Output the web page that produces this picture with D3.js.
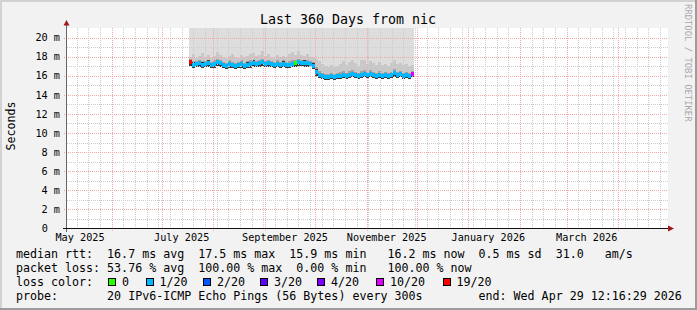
<!DOCTYPE html>
<html>
<head>
<meta charset="utf-8">
<script src="https://cdn.jsdelivr.net/npm/d3@7"></script>
<style>
  body { margin: 0; background: #f2f2f2; }
  svg { display: block; font-family: "DejaVu Sans Mono", monospace; }
</style>
</head>
<body>
<script>
// Smokeping style graph: last 360 days of pings to nic
const width = 697;
const height = 310;
const plot = { left: 67, right: 667, top: 28, bottom: 228.5 };

const rangeStart = new Date(Date.UTC(2025, 4, 5, 4, 20));
const rangeEnd = new Date(Date.UTC(2026, 3, 30, 4, 20));

// one sample every 1.8 days, starting mid July 2025
const firstSample = Date.UTC(2025, 6, 17, 9, 0);
const stepMs = 1.8 * 86400000;

// median rtt (ms)
const median = [
  17.4, 17.1, 17.2, 17.3, 17.1, 17.2, 17.3, 17.1, 17.2, 17.4,
  17.3, 17.1, 17.0, 17.2, 17.1, 17.0, 17.1, 17.2, 17.0, 17.1,
  17.2, 17.3, 17.2, 17.3, 17.4, 17.2, 17.3, 17.2, 17.1, 17.2,
  17.1, 17.2, 17.1, 17.1, 17.2, 17.3, 17.4, 17.3, 17.3, 17.3,
  17.2, 17.0, 16.4, 16.1, 15.95, 15.9, 15.9, 15.95, 15.9, 15.95,
  16.0, 16.1, 16.0, 16.1, 16.2, 16.1, 16.0, 16.1, 16.2, 16.1,
  16.2, 16.1, 16.0, 16.1, 16.0, 16.1, 16.0, 16.1, 16.3, 16.1,
  16.2, 16.0, 16.1, 16.0, 16.2
];

// upper edges of the smoke shades (ms), outer to inner
const smokeOuter = [
  18.0, 18.3, 17.9, 18.1, 18.4, 18.0, 18.2, 17.9, 18.1, 18.5,
  18.2, 18.0, 17.9, 18.1, 18.3, 18.0, 17.9, 18.2, 18.0, 18.1,
  18.3, 18.4, 18.1, 18.2, 18.6, 18.1, 18.3, 18.0, 17.9, 18.2,
  18.0, 18.1, 18.0, 18.3, 18.5, 18.2, 18.6, 18.2, 18.1, 18.3,
  18.0, 18.0, 17.8, 17.5, 17.2, 17.0, 16.9, 17.1, 16.9, 17.0,
  17.2, 17.5, 17.1, 17.4, 17.7, 17.3, 17.0, 17.6, 17.7, 17.2,
  17.5, 17.3, 17.1, 17.4, 17.1, 17.2, 17.0, 17.3, 17.6, 17.2,
  17.3, 17.1, 17.2, 17.0, 17.1
];
const smokeMid = [
  17.8, 17.5, 17.5, 17.7, 17.5, 17.5, 17.7, 17.4, 17.6, 17.8,
  17.6, 17.4, 17.3, 17.6, 17.4, 17.3, 17.4, 17.6, 17.3, 17.5,
  17.6, 17.7, 17.5, 17.7, 17.8, 17.5, 17.7, 17.5, 17.4, 17.6,
  17.4, 17.6, 17.4, 17.5, 17.6, 17.7, 17.8, 17.6, 17.7, 17.6,
  17.5, 17.4, 16.9, 16.5, 16.3, 16.2, 16.2, 16.3, 16.2, 16.3,
  16.4, 16.5, 16.3, 16.5, 16.6, 16.4, 16.3, 16.5, 16.6, 16.4,
  16.6, 16.4, 16.3, 16.5, 16.3, 16.4, 16.3, 16.4, 16.7, 16.4,
  16.5, 16.3, 16.4, 16.3, 16.5
];
const smokeCore = [
  17.6, 17.4, 17.4, 17.5, 17.4, 17.3, 17.6, 17.3, 17.4, 17.6,
  17.5, 17.3, 17.2, 17.4, 17.3, 17.2, 17.3, 17.4, 17.2, 17.4,
  17.4, 17.6, 17.4, 17.5, 17.6, 17.4, 17.5, 17.4, 17.3, 17.4,
  17.3, 17.5, 17.3, 17.3, 17.4, 17.5, 17.6, 17.5, 17.6, 17.5,
  17.4, 17.3, 16.7, 16.3, 16.1, 16.1, 16.1, 16.1, 16.1, 16.2,
  16.2, 16.3, 16.2, 16.3, 16.4, 16.3, 16.2, 16.3, 16.4, 16.3,
  16.4, 16.3, 16.2, 16.3, 16.2, 16.3, 16.2, 16.3, 16.5, 16.3,
  16.4, 16.2, 16.3, 16.2, 16.4
];
// lower edge of the smoke (ms)
const smokeLow = [
  17.0, 16.8, 16.9, 16.9, 16.8, 16.9, 16.9, 16.8, 16.8, 17.0,
  16.9, 16.8, 16.7, 16.8, 16.8, 16.7, 16.8, 16.8, 16.7, 16.8,
  16.8, 16.9, 16.9, 16.9, 17.0, 16.9, 16.9, 16.9, 16.8, 16.9,
  16.8, 16.9, 16.8, 16.8, 16.9, 16.9, 17.0, 17.0, 16.9, 16.9,
  16.9, 16.7, 16.0, 15.8, 15.7, 15.6, 15.6, 15.7, 15.6, 15.7,
  15.7, 15.8, 15.7, 15.8, 15.9, 15.8, 15.7, 15.8, 15.9, 15.8,
  15.9, 15.8, 15.7, 15.8, 15.7, 15.8, 15.7, 15.8, 15.9, 15.8,
  15.9, 15.7, 15.8, 15.7, 15.9
];
// lost pings out of 20, per sample
const lossCount = [
  19, 1, 1, 1, 1, 1, 1, 1, 1, 1,
  1, 1, 1, 1, 1, 1, 1, 1, 1, 1,
  1, 1, 1, 1, 1, 1, 1, 1, 1, 1,
  1, 1, 1, 1, 1, 0, 1, 1, 1, 1,
  1, 1, 1, 1, 1, 1, 1, 1, 1, 1,
  1, 1, 1, 1, 1, 1, 1, 1, 1, 1,
  1, 1, 1, 1, 1, 1, 1, 1, 1, 1,
  1, 1, 1, 1, 10
];

const yTicks = [0, 2, 4, 6, 8, 10, 12, 14, 16, 18, 20];
const monthLabels = ['May 2025', 'July 2025', 'September 2025', 'November 2025', 'January 2026', 'March 2026'];
const monthLabelDates = [[2025, 4], [2025, 6], [2025, 8], [2025, 10], [2026, 0], [2026, 2]];

const lossLabels = ['0', '1/20', '2/20', '3/20', '4/20', '10/20', '19/20'];
const lossColors = ['#26ff00', '#00b8ff', '#0059ff', '#5e00ff', '#7e00ff', '#dd00ff', '#ff0000'];
const lossBoxX = [108, 145.5, 203, 260, 317, 376, 442.5];

const legendRows = [
  'median rtt:  16.7 ms avg  17.5 ms max  15.9 ms min   16.2 ms now  0.5 ms sd  31.0   am/s',
  'packet loss: 53.76 % avg  100.00 % max  0.00 % min   100.00 % now',
  'loss color:',
  'probe:       20 IPv6-ICMP Echo Pings (56 Bytes) every 300s        end: Wed Apr 29 12:16:29 2026'
];

const x = d3.scaleUtc().domain([rangeStart, rangeEnd]).range([plot.left, plot.right]);
const y = d3.scaleLinear().domain([0, 21]).range([plot.bottom, plot.top]);
const lossColor = d3.scaleThreshold().domain([1, 2, 3, 4, 5, 11]).range(lossColors);
const sampleTime = i => new Date(firstSample + i * stepMs);

const svg = d3.select('body').append('svg')
  .attr('width', width)
  .attr('height', height);

// background and 3d frame
svg.append('rect').attr('width', width).attr('height', height).attr('fill', '#f2f2f2');
svg.append('rect').attr('x', 0).attr('y', 0).attr('width', width).attr('height', 2).attr('fill', '#d2d2d2');
svg.append('rect').attr('x', 0).attr('y', 0).attr('width', 2).attr('height', height).attr('fill', '#d2d2d2');
svg.append('rect').attr('x', 0).attr('y', height - 2).attr('width', width).attr('height', 2).attr('fill', '#9c9c9c');
svg.append('rect').attr('x', width - 2).attr('y', 0).attr('width', 2).attr('height', height).attr('fill', '#9c9c9c');

// canvas
svg.append('rect')
  .attr('x', plot.left).attr('y', plot.top)
  .attr('width', plot.right - plot.left + 1).attr('height', plot.bottom - plot.top)
  .attr('fill', '#ffffff');

// smoke
function smoke(topFn, color) {
  svg.append('g').attr('shape-rendering', 'crispEdges')
    .selectAll('rect')
    .data(median)
    .join('rect')
    .attr('x', (d, i) => x(sampleTime(i)))
    .attr('width', (d, i) => x(sampleTime(i + 1)) - x(sampleTime(i)))
    .attr('y', (d, i) => topFn(i))
    .attr('height', (d, i) => y(smokeLow[i]) - topFn(i))
    .attr('fill', color);
}
smoke(() => plot.top, '#dddddd');
smoke(i => y(smokeOuter[i]), '#c8c8c8');
smoke(i => y(smokeMid[i]), '#a0a0a0');
smoke(i => y(smokeCore[i]), '#383838');

// grid
const grid = svg.append('g').attr('shape-rendering', 'crispEdges').attr('stroke-dasharray', '1,1');
const minorX = d3.utcSunday.range(rangeStart, rangeEnd);
const majorX = d3.utcMonth.range(rangeStart, rangeEnd);
const minorY = d3.range(1, 21, 2);

grid.selectAll('.minor-x').data(minorX).join('line')
  .attr('x1', d => Math.round(x(d)) + 0.5).attr('x2', d => Math.round(x(d)) + 0.5)
  .attr('y1', plot.top).attr('y2', plot.bottom)
  .attr('stroke', '#cccccc');
grid.selectAll('.minor-y').data(minorY).join('line')
  .attr('x1', plot.left).attr('x2', plot.right + 1)
  .attr('y1', d => Math.round(y(d)) + 0.5).attr('y2', d => Math.round(y(d)) + 0.5)
  .attr('stroke', '#cccccc');
grid.selectAll('.major-x').data(majorX).join('line')
  .attr('x1', d => Math.round(x(d)) + 0.5).attr('x2', d => Math.round(x(d)) + 0.5)
  .attr('y1', plot.top).attr('y2', plot.bottom + 3)
  .attr('stroke', '#f2a8a8');
grid.selectAll('.major-y').data(yTicks.slice(1)).join('line')
  .attr('x1', plot.left - 3).attr('x2', plot.right + 1)
  .attr('y1', d => Math.round(y(d)) + 0.5).attr('y2', d => Math.round(y(d)) + 0.5)
  .attr('stroke', '#f2a8a8');

// median, coloured by loss
svg.append('g').attr('shape-rendering', 'crispEdges')
  .selectAll('rect')
  .data(median)
  .join('rect')
  .attr('x', (d, i) => x(sampleTime(i)))
  .attr('width', (d, i) => x(sampleTime(i + 1)) - x(sampleTime(i)))
  .attr('y', d => y(d) - 2)
  .attr('height', 4)
  .attr('fill', (d, i) => lossColor(lossCount[i]));

// axes
svg.append('line')
  .attr('x1', plot.left - 0.5).attr('x2', plot.left - 0.5)
  .attr('y1', plot.bottom + 3).attr('y2', plot.top - 5)
  .attr('stroke', '#666').attr('shape-rendering', 'crispEdges');
svg.append('line')
  .attr('x1', plot.left - 4).attr('x2', plot.right + 3)
  .attr('y1', 228.5).attr('y2', 228.5)
  .attr('stroke', '#111').attr('shape-rendering', 'crispEdges');
svg.append('path')
  .attr('d', `M${plot.left - 3.5},25.5 L${plot.left - 0.5},20 L${plot.left + 2.5},25.5 Z`)
  .attr('fill', '#a01818');
svg.append('path')
  .attr('d', `M${plot.right + 1},225.5 L${plot.right + 7},228.5 L${plot.right + 1},231.5 Z`)
  .attr('fill', '#a01818');

// y labels
svg.append('g')
  .selectAll('text')
  .data(yTicks)
  .join('text')
  .attr('x', d => d === 0 ? 47.8 : 60)
  .attr('y', d => y(d))
  .attr('dy', '0.36em')
  .attr('text-anchor', 'end')
  .attr('font-size', '10.2px')
  .text(d => d === 0 ? '0' : `${d} m`);

// x labels
svg.append('g')
  .selectAll('text')
  .data(monthLabels)
  .join('text')
  .attr('x', (d, i) => x(new Date(Date.UTC(monthLabelDates[i][0], monthLabelDates[i][1], 13))))
  .attr('y', 240.5)
  .attr('text-anchor', 'middle')
  .attr('font-size', '10.2px')
  .text(d => d);

// title
svg.append('text')
  .attr('x', 348).attr('y', 24)
  .attr('text-anchor', 'middle')
  .attr('font-size', '13.3px')
  .text('Last 360 Days from nic');

// vertical labels
svg.append('text')
  .attr('transform', 'translate(15,126) rotate(-90)')
  .attr('text-anchor', 'middle')
  .attr('font-size', '11.65px')
  .text('Seconds');
svg.append('text')
  .attr('transform', 'translate(684.5,4) rotate(90)')
  .attr('font-size', '8.9px')
  .attr('fill', '#a8a8a8')
  .text('RRDTOOL / TOBI OETIKER');

// legend
svg.append('g')
  .selectAll('text')
  .data(legendRows)
  .join('text')
  .attr('x', 16)
  .attr('y', (d, i) => 257.8 + i * 13.9)
  .attr('font-size', '11.65px')
  .style('white-space', 'pre')
  .text(d => d);

const lossLegend = svg.append('g');
lossLegend.selectAll('rect')
  .data(lossColors)
  .join('rect')
  .attr('x', (d, i) => lossBoxX[i] + 0.5).attr('y', 278.5)
  .attr('width', 7).attr('height', 7)
  .attr('fill', d => d)
  .attr('stroke', '#000')
  .attr('shape-rendering', 'crispEdges');
lossLegend.selectAll('text')
  .data(lossLabels)
  .join('text')
  .attr('x', (d, i) => lossBoxX[i] + 14)
  .attr('y', 285.6)
  .attr('font-size', '11.65px')
  .text(d => d);
</script>
</body>
</html>
